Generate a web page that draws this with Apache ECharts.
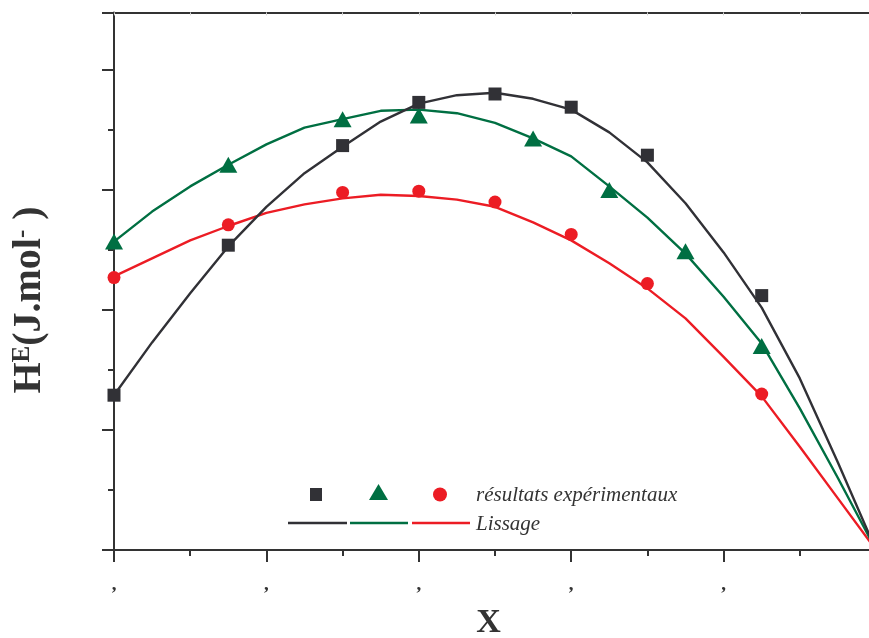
<!DOCTYPE html>
<html>
<head>
<meta charset="utf-8">
<script src="https://cdn.jsdelivr.net/npm/echarts@6/dist/echarts.min.js"></script>
<style>
  html, body { margin: 0; padding: 0; background: #fff; }
  #chart { width: 869px; height: 638px; }
</style>
</head>
<body>
<div id="chart"></div>
<script>
// Mole fraction of the experimental points
const xExp = [0, 0.15, 0.30, 0.40, 0.50, 0.60, 0.70, 0.85];
const xExpGreen = [0, 0.15, 0.30, 0.40, 0.55, 0.65, 0.75, 0.85];
// Measured excess enthalpies
const heExpBlack = [129, 254, 337, 373, 380, 369, 329, 212];
const heExpGreen = [257, 321, 359, 362, 343, 300, 249, 170];
const heExpRed = [227, 271, 298, 299, 290, 263, 222, 130];

// Smoothed curves (Lissage), one value every 0.05
const xFit = [0, 0.05, 0.10, 0.15, 0.20, 0.25, 0.30, 0.35, 0.40, 0.45, 0.50,
              0.55, 0.60, 0.65, 0.70, 0.75, 0.80, 0.85, 0.90, 0.95, 1.00];
const heFitBlack = [129, 173, 214, 253, 286, 314, 336, 357, 372, 379, 381,
                    376, 367, 348, 323, 289, 248, 202, 143, 73, 0];
const heFitGreen = [257, 282, 303, 321, 338, 352, 359, 366, 367, 364, 356,
                    343, 328, 303, 277, 247, 211, 172, 118, 60, 0];
const heFitRed = [228, 243, 258, 270, 281, 288, 293, 296, 295, 292, 286,
                  273, 258, 239, 218, 193, 161, 128, 86, 43, 0];

const legendExp = 'résultats expérimentaux';
const legendFit = 'Lissage';

const C_BLACK = '#313136';
const C_GREEN = '#006f42';
const C_RED = '#ec1c24';
const C_AXIS = '#333333';
const SERIF = '"Liberation Serif", "Times New Roman", serif';

const zip = (xs, ys) => xs.map((x, i) => [x, ys[i]]);

const chart = echarts.init(document.getElementById('chart'), null, { renderer: 'canvas' });

const lineSeries = (data, color) => ({
  type: 'line', data, xAxisIndex: 0, yAxisIndex: 0,
  showSymbol: false, symbol: 'none', smooth: false, silent: true,
  lineStyle: { color, width: 2.4 }, z: 2
});
const pointSeries = (data, symbol, size, color) => ({
  type: 'scatter', data, xAxisIndex: 0, yAxisIndex: 0,
  symbol, symbolSize: size, silent: true,
  itemStyle: { color, opacity: 1 }, z: 3
});

chart.setOption({
  animation: false,
  backgroundColor: '#ffffff',
  // the plot frame runs past the right edge of the page
  grid: {
    left: 114, width: 762, top: 12.4, height: 537.6,
    containLabel: false, outerBoundsMode: 'none'
  },
  xAxis: [{
    type: 'value', min: 0, max: 1, interval: 0.2, position: 'bottom',
    axisLine: { show: true, onZero: false, lineStyle: { color: C_AXIS, width: 2 } },
    axisTick: { show: true, inside: false, length: 12, lineStyle: { color: C_AXIS, width: 2 } },
    minorTick: { show: true, splitNumber: 2, length: 6, lineStyle: { color: C_AXIS, width: 2 } },
    axisLabel: {
      show: true, margin: 26, color: C_AXIS, fontFamily: SERIF, fontSize: 19, fontWeight: 'bold',
      formatter: v => (v < 0.99 ? ',' : '')
    },
    splitLine: { show: false }, minorSplitLine: { show: false }
  }, {
    type: 'value', min: 0, max: 1, interval: 0.2, position: 'top',
    axisLine: { show: true, onZero: false, lineStyle: { color: C_AXIS, width: 2 } },
    axisTick: { show: true, inside: true, length: 3, lineStyle: { color: '#d4d4d4', width: 1 } },
    minorTick: { show: true, splitNumber: 2, length: 3, lineStyle: { color: '#d4d4d4', width: 1 } },
    axisLabel: { show: false },
    splitLine: { show: false }
  }],
  yAxis: [{
    type: 'value', min: 0, max: 448, interval: 100, position: 'left',
    axisLine: { show: true, onZero: false, lineStyle: { color: C_AXIS, width: 2 } },
    axisTick: { show: true, inside: false, length: 12, lineStyle: { color: C_AXIS, width: 2 } },
    minorTick: { show: true, splitNumber: 2, length: 6, lineStyle: { color: C_AXIS, width: 2 } },
    axisLabel: { show: false },
    splitLine: { show: false }, minorSplitLine: { show: false }
  }],
  series: [
    lineSeries(zip(xFit, heFitRed), C_RED),
    lineSeries(zip(xFit, heFitGreen), C_GREEN),
    lineSeries(zip(xFit, heFitBlack), C_BLACK),
    pointSeries(zip(xExp, heExpRed), 'circle', 13, C_RED),
    pointSeries(zip(xExpGreen, heExpGreen), 'triangle', [18, 16], C_GREEN),
    pointSeries(zip(xExp, heExpBlack), 'rect', 13, C_BLACK)
  ],
  graphic: [
    // Y axis title with superscripts
    {
      type: 'text', x: 30, y: 300, rotation: Math.PI / 2, z: 10,
      style: {
        text: '{m|H}{s|E}{m|(J.mol}{s|-}{m| )}',
        align: 'center', verticalAlign: 'middle', fill: C_AXIS,
        rich: {
          m: { fontFamily: SERIF, fontWeight: 'bold', fontSize: 40, lineHeight: 40, fill: C_AXIS },
          s: { fontFamily: SERIF, fontWeight: 'bold', fontSize: 25, lineHeight: 40, fill: C_AXIS,
               verticalAlign: 'top', padding: [0, 0, 14, 0] }
        }
      }
    },
    // X axis title
    {
      type: 'text', x: 488.5, y: 623, z: 10,
      style: {
        text: 'X', align: 'center', verticalAlign: 'middle',
        fontFamily: SERIF, fontWeight: 'bold', fontSize: 34, fill: C_AXIS
      }
    },
    // Legend: experimental markers
    { type: 'rect', shape: { x: 310, y: 488, width: 12, height: 13 }, style: { fill: C_BLACK }, z: 10 },
    { type: 'polygon', shape: { points: [[378.5, 484], [369, 500], [388, 500]] }, style: { fill: C_GREEN }, z: 10 },
    { type: 'circle', shape: { cx: 440, cy: 494.5, r: 7 }, style: { fill: C_RED }, z: 10 },
    {
      type: 'text', x: 476, y: 495, z: 10,
      style: {
        text: legendExp, align: 'left', verticalAlign: 'middle',
        fontFamily: SERIF, fontStyle: 'italic', fontSize: 21, fill: C_AXIS
      }
    },
    // Legend: smoothed curves
    { type: 'line', shape: { x1: 288, y1: 523, x2: 347, y2: 523 }, style: { stroke: C_BLACK, lineWidth: 2.4 }, z: 10 },
    { type: 'line', shape: { x1: 350, y1: 523, x2: 408, y2: 523 }, style: { stroke: C_GREEN, lineWidth: 2.4 }, z: 10 },
    { type: 'line', shape: { x1: 412, y1: 523, x2: 470, y2: 523 }, style: { stroke: C_RED, lineWidth: 2.4 }, z: 10 },
    {
      type: 'text', x: 476, y: 524, z: 10,
      style: {
        text: legendFit, align: 'left', verticalAlign: 'middle',
        fontFamily: SERIF, fontStyle: 'italic', fontSize: 21, fill: C_AXIS
      }
    }
  ]
});
</script>
</body>
</html>
